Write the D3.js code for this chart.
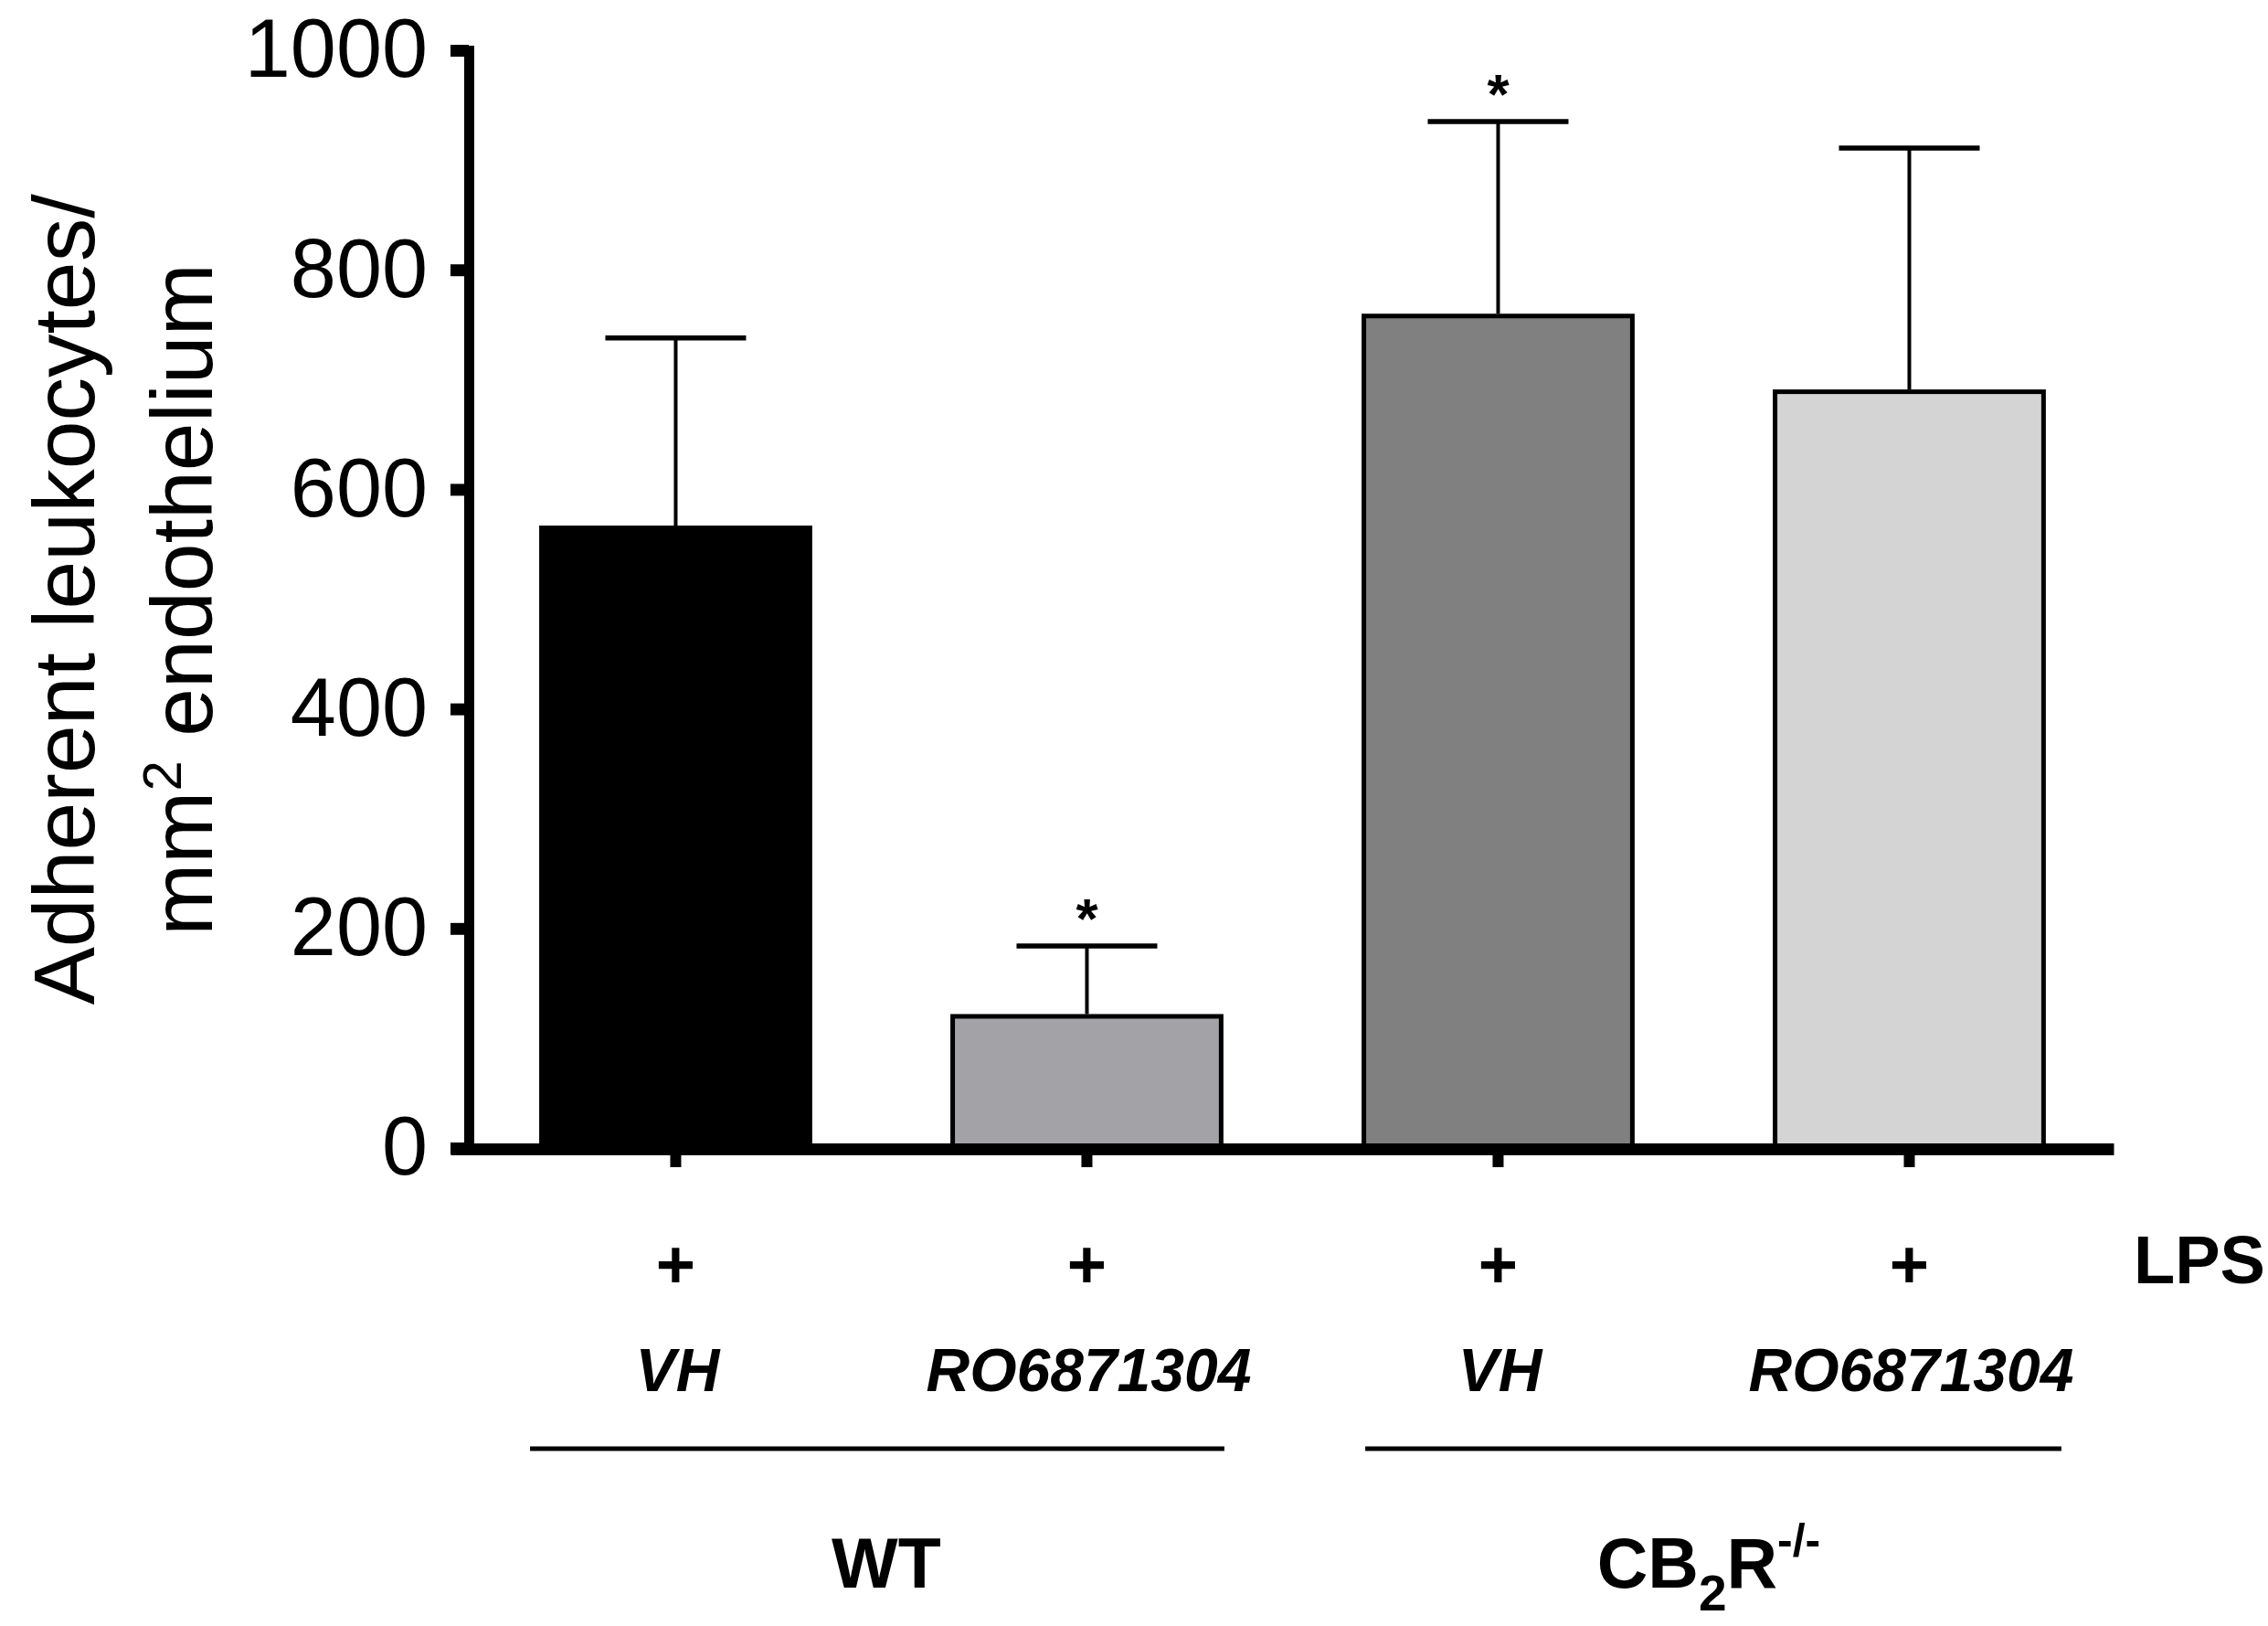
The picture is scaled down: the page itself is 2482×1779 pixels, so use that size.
<!DOCTYPE html>
<html>
<head>
<meta charset="utf-8">
<script src="https://cdn.jsdelivr.net/npm/d3@7"></script>
<style>
  body { margin: 0; background: #fff; }
  text { font-family: "Liberation Sans", Arial, sans-serif; fill: #000; }
</style>
</head>
<body>
<svg id="chart" width="2482" height="1779"></svg>
<script>
const bars = ["WT-VH", "WT-RO", "KO-VH", "KO-RO"];
const means = [567, 122, 760, 691];
const sems = [171, 62, 175, 220];
const starred = [false, true, true, false];
const lps = ["+", "+", "+", "+"];
const treatments = ["VH", "RO6871304", "VH", "RO6871304"];
const genotypeOf = [0, 0, 1, 1];
const genotypes = ["WT", "CB2R-/-"];
const yTicks = [0, 200, 400, 600, 800, 1000];

const barColors = ["#000000", "#a3a2a6", "#808080", "#d4d4d4"];

const svg = d3.select("#chart");
svg.append("rect").attr("width", 2482).attr("height", 1779).attr("fill", "#fff");

const y = d3.scaleLinear().domain([0, 1000]).range([1256, 55]);
const x = d3.scaleBand()
  .domain(bars)
  .range([493, 2313])
  .paddingInner(0.336)
  .paddingOuter(0.1902)
  .align(0.567);

// bars
const bw = x.bandwidth();
svg.append("g").selectAll("rect")
  .data(bars)
  .join("rect")
  .attr("x", d => x(d) + 2.5)
  .attr("width", bw - 5)
  .attr("y", (d, i) => y(means[i]) + 2.5)
  .attr("height", (d, i) => y(0) - y(means[i]))
  .attr("fill", (d, i) => barColors[i])
  .attr("stroke", "#000")
  .attr("stroke-width", 5);

// error bars (upper only)
const err = svg.append("g");
err.selectAll("line.v")
  .data(bars)
  .join("line")
  .attr("class", "v")
  .attr("x1", d => x(d) + bw / 2)
  .attr("x2", d => x(d) + bw / 2)
  .attr("y1", (d, i) => y(means[i]))
  .attr("y2", (d, i) => y(means[i] + sems[i]))
  .attr("stroke", "#000")
  .attr("stroke-width", 4);
err.selectAll("line.cap")
  .data(bars)
  .join("line")
  .attr("class", "cap")
  .attr("x1", d => x(d) + bw / 2 - 77)
  .attr("x2", d => x(d) + bw / 2 + 77)
  .attr("y1", (d, i) => y(means[i] + sems[i]))
  .attr("y2", (d, i) => y(means[i] + sems[i]))
  .attr("stroke", "#000")
  .attr("stroke-width", 5.5);

// significance stars
svg.append("g").selectAll("text")
  .data(bars.filter((d, i) => starred[i]))
  .join("text")
  .attr("x", d => x(d) + bw / 2)
  .attr("y", d => y(means[bars.indexOf(d)] + sems[bars.indexOf(d)]) - 9)
  .attr("text-anchor", "middle")
  .attr("font-size", 62)
  .attr("font-weight", "bold")
  .text("*");

// y axis
const yAxis = svg.append("g")
  .attr("transform", "translate(513,0)")
  .call(d3.axisLeft(y).tickValues(yTicks).tickFormat(d3.format("d"))
    .tickSizeInner(20).tickSizeOuter(0).tickPadding(25));
yAxis.select(".domain").attr("stroke-width", 11).attr("stroke-linecap", "square");
yAxis.selectAll(".tick line").attr("stroke-width", 13);
yAxis.selectAll(".tick text")
  .attr("font-size", 90)
  .attr("font-family", "'Liberation Sans', Arial, sans-serif")
  .attr("fill", "#000");

// x axis
const xAxis = svg.append("g")
  .attr("transform", "translate(0,1257)")
  .call(d3.axisBottom(x).tickSizeInner(20).tickSizeOuter(0).tickFormat(() => ""));
xAxis.select(".domain").attr("stroke-width", 13);
xAxis.selectAll(".tick line").attr("stroke-width", 12);

// y axis title
const title = svg.append("g");
title.append("text")
  .attr("transform", "translate(103,656) rotate(-90)")
  .attr("text-anchor", "middle")
  .attr("font-size", 95)
  .text("Adherent leukocytes/");
const t2 = title.append("text")
  .attr("transform", "translate(232,656) rotate(-90)")
  .attr("text-anchor", "middle")
  .attr("font-size", 95);
t2.append("tspan").text("mm");
t2.append("tspan").attr("font-size", 60).attr("dy", -34).text("2");
t2.append("tspan").attr("dy", 34).text(" endothelium");

// condition rows under the axis
const rows = svg.append("g").attr("font-weight", "bold");
rows.selectAll("text.lps")
  .data(bars)
  .join("text")
  .attr("class", "lps")
  .attr("x", d => x(d) + bw / 2)
  .attr("y", 1409)
  .attr("text-anchor", "middle")
  .attr("font-size", 74)
  .text((d, i) => lps[i]);
rows.append("text")
  .attr("x", 2335)
  .attr("y", 1404)
  .attr("font-size", 74)
  .text("LPS");
rows.selectAll("text.trt")
  .data(bars)
  .join("text")
  .attr("class", "trt")
  .attr("x", d => x(d) + bw / 2 + 2)
  .attr("y", 1522)
  .attr("text-anchor", "middle")
  .attr("font-size", 66)
  .attr("font-style", "italic")
  .text((d, i) => treatments[i]);

// genotype brackets
const bracketPad = [[-10, 1], [4, 17]];
genotypes.forEach((g, gi) => {
  const members = bars.filter((d, i) => genotypeOf[i] === gi);
  const x0 = x(members[0]) + bracketPad[gi][0];
  const x1 = x(members[members.length - 1]) + bw + bracketPad[gi][1];
  svg.append("line")
    .attr("x1", x0).attr("x2", x1)
    .attr("y1", 1585).attr("y2", 1585)
    .attr("stroke", "#000")
    .attr("stroke-width", 5);
  const lbl = svg.append("text")
    .attr("x", (x0 + x1) / 2 + (gi === 0 ? 10 : -5))
    .attr("y", 1737)
    .attr("text-anchor", "middle")
    .attr("font-size", 77)
    .attr("font-weight", "bold");
  if (g === "WT") {
    lbl.text(g);
  } else {
    lbl.append("tspan").text("CB");
    lbl.append("tspan").attr("font-size", 55).attr("dy", 25).text("2");
    lbl.append("tspan").attr("dy", -25).text("R");
    lbl.append("tspan").attr("font-size", 50).attr("dy", -35).text("-/-");
  }
});
</script>
</body>
</html>
